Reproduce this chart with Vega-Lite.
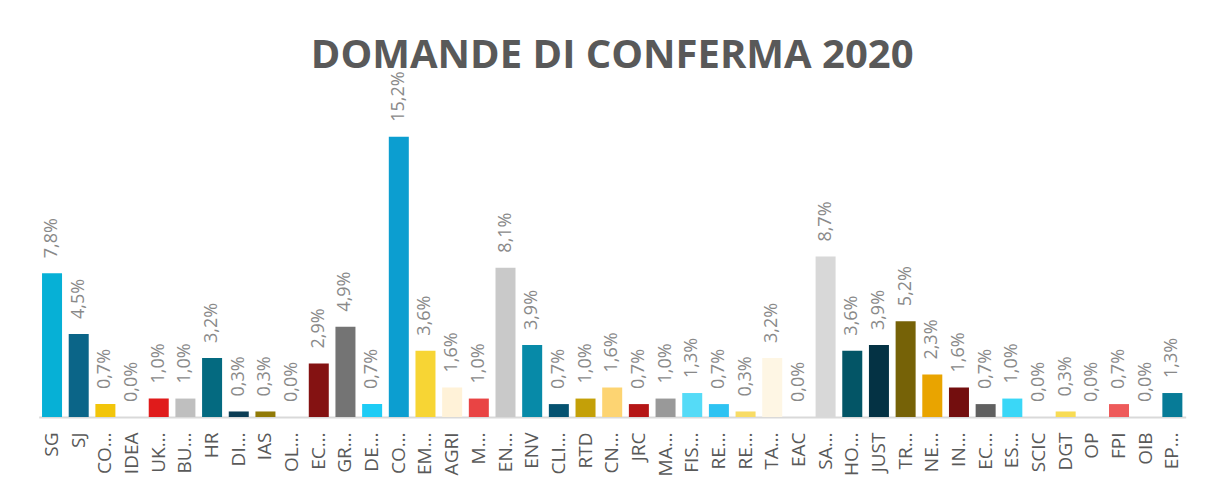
{
  "$schema": "https://vega.github.io/schema/vega-lite/v6.json",
  "autosize": "none",
  "width": 1147,
  "height": 295,
  "padding": {"left": 38.7, "right": 20.3, "top": 122, "bottom": 69},
  "background": "#ffffff",
  "title": {
    "text": "DOMANDE DI CONFERMA 2020",
    "font": "Open Sans",
    "fontSize": 40,
    "fontWeight": "bold",
    "color": "#595959",
    "anchor": "middle",
    "frame": "group",
    "baseline": "alphabetic",
    "offset": -37
  },
  "data": {
    "values": [
      {"n": 1, "dg": "SG", "v": 0.078},
      {"n": 2, "dg": "SJ", "v": 0.045},
      {"n": 3, "dg": "CO…", "v": 0.007},
      {"n": 4, "dg": "IDEA", "v": 0.0},
      {"n": 5, "dg": "UK…", "v": 0.010},
      {"n": 6, "dg": "BU…", "v": 0.010},
      {"n": 7, "dg": "HR", "v": 0.032},
      {"n": 8, "dg": "DI…", "v": 0.003},
      {"n": 9, "dg": "IAS", "v": 0.003},
      {"n": 10, "dg": "OL…", "v": 0.0},
      {"n": 11, "dg": "EC…", "v": 0.029},
      {"n": 12, "dg": "GR…", "v": 0.049},
      {"n": 13, "dg": "DE…", "v": 0.007},
      {"n": 14, "dg": "CO…\u200b", "v": 0.152},
      {"n": 15, "dg": "EM…", "v": 0.036},
      {"n": 16, "dg": "AGRI", "v": 0.016},
      {"n": 17, "dg": "M…", "v": 0.010},
      {"n": 18, "dg": "EN…", "v": 0.081},
      {"n": 19, "dg": "ENV", "v": 0.039},
      {"n": 20, "dg": "CLI…", "v": 0.007},
      {"n": 21, "dg": "RTD", "v": 0.010},
      {"n": 22, "dg": "CN…", "v": 0.016},
      {"n": 23, "dg": "JRC", "v": 0.007},
      {"n": 24, "dg": "MA…", "v": 0.010},
      {"n": 25, "dg": "FIS…", "v": 0.013},
      {"n": 26, "dg": "RE…", "v": 0.007},
      {"n": 27, "dg": "RE…\u200b", "v": 0.003},
      {"n": 28, "dg": "TA…", "v": 0.032},
      {"n": 29, "dg": "EAC", "v": 0.0},
      {"n": 30, "dg": "SA…", "v": 0.087},
      {"n": 31, "dg": "HO…", "v": 0.036},
      {"n": 32, "dg": "JUST", "v": 0.039},
      {"n": 33, "dg": "TR…", "v": 0.052},
      {"n": 34, "dg": "NE…", "v": 0.023},
      {"n": 35, "dg": "IN…", "v": 0.016},
      {"n": 36, "dg": "EC…\u200b", "v": 0.007},
      {"n": 37, "dg": "ES…", "v": 0.010},
      {"n": 38, "dg": "SCIC", "v": 0.0},
      {"n": 39, "dg": "DGT", "v": 0.003},
      {"n": 40, "dg": "OP", "v": 0.0},
      {"n": 41, "dg": "FPI", "v": 0.007},
      {"n": 42, "dg": "OIB", "v": 0.0},
      {"n": 43, "dg": "EP…", "v": 0.013}
    ]
  },
  "encoding": {
    "x": {
      "field": "dg",
      "type": "nominal",
      "sort": null,
      "scale": {"paddingInner": 0.25, "paddingOuter": 0.125},
      "axis": {
        "title": null,
        "labelAngle": -90,
        "labelAlign": "right",
        "labelBaseline": "middle",
        "labelFont": "Open Sans",
        "labelFontSize": 19,
        "labelColor": "#595959",
        "labelPadding": 15,
        "labelLimit": 200,
        "ticks": false,
        "domainColor": "#d9d9d9",
        "domainWidth": 2
      }
    },
    "y": {
      "field": "v",
      "type": "quantitative",
      "scale": {"domain": [0, 0.16], "nice": false},
      "axis": null
    }
  },
  "layer": [
    {
      "mark": {"type": "bar"},
      "encoding": {
        "color": {
          "field": "n",
          "type": "ordinal",
          "legend": null,
          "scale": {
            "range": ["#06B0D6", "#0B6588", "#F2C50A", "#FFFFFF", "#E01B1B", "#BFBFBF", "#046A80", "#0B3D54", "#917A07", "#FFFFFF", "#841212", "#747474", "#1ECCF5", "#0C9ED0", "#F7D534", "#FFF2D8", "#E94444", "#C9C9C9", "#078AA8", "#055270", "#C4A008", "#FDD472", "#B51616", "#999999", "#55DBF7", "#2EC3F2", "#F8DC66", "#FEF6E4", "#FFFFFF", "#D8D8D8", "#035566", "#043244", "#766207", "#E9A400", "#730E0E", "#606060", "#3AD7F7", "#FFFFFF", "#F8DC55", "#FFFFFF", "#EE5A5A", "#FFFFFF", "#077B97"]
          }
        }
      }
    },
    {
      "mark": {
        "type": "text",
        "angle": 270,
        "align": "left",
        "baseline": "middle",
        "dx": 15,
        "font": "Open Sans",
        "fontSize": 18,
        "color": "#898989"
      },
      "encoding": {
        "text": {"field": "v", "type": "quantitative", "format": ".1%"}
      }
    }
  ],
  "config": {
    "view": {"stroke": null},
    "locale": {
      "number": {"decimal": ",", "thousands": ".", "grouping": [3], "currency": ["", " €"]}
    }
  }
}
